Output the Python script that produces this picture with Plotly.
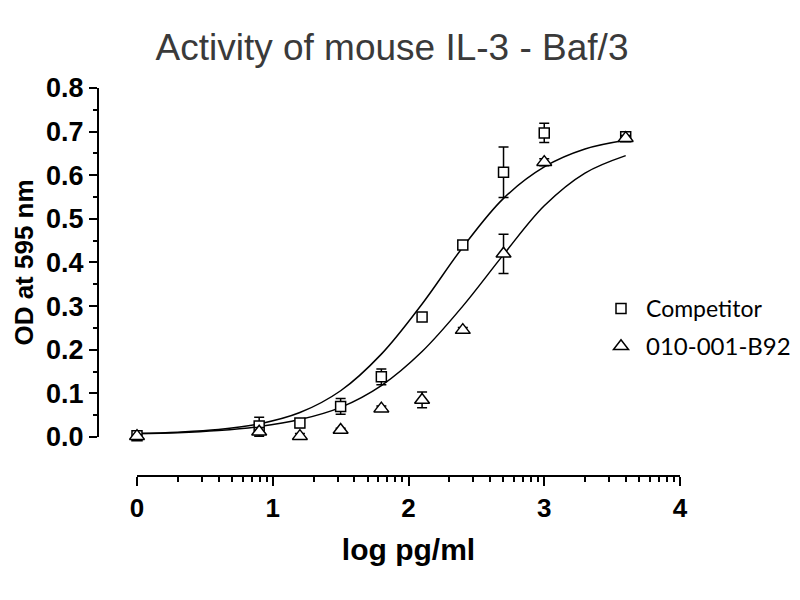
import math
import plotly.graph_objects as go

# log concentration (pg/ml) of the dilution series
log_conc = [0, 0.9, 1.2, 1.5, 1.8, 2.1, 2.4, 2.7, 3.0, 3.6]

# OD 595 readings, mean and error
competitor = [0.003, 0.025, 0.032, 0.070, 0.138, 0.275, 0.440, 0.607, 0.697, 0.688]
competitor_err = [0.004, 0.020, 0.010, 0.018, 0.018, 0.006, 0.006, 0.058, 0.022, 0.008]
b92 = [0.002, 0.012, 0.002, 0.016, 0.065, 0.085, 0.245, 0.420, 0.630, 0.685]
b92_err = [0.003, 0.010, 0.006, 0.004, 0.006, 0.018, 0.006, 0.045, 0.008, 0.006]

# fitted curves
fit_x = [0, 0.3, 0.6, 0.9, 1.2, 1.5, 1.8, 2.1, 2.4, 2.7, 3.0, 3.3, 3.6]
competitor_fit = [0.008, 0.011, 0.017, 0.030, 0.056, 0.106, 0.190, 0.305, 0.435, 0.547, 0.619, 0.660, 0.680]
b92_fit = [0.008, 0.010, 0.015, 0.024, 0.040, 0.068, 0.118, 0.196, 0.300, 0.418, 0.530, 0.605, 0.645]

x_ticks = [0, 1, 2, 3, 4]
y_ticks = [0.0, 0.1, 0.2, 0.3, 0.4, 0.5, 0.6, 0.7, 0.8]

bold = dict(family="Liberation Sans, Arial, sans-serif", weight="bold", color="black")

fig = go.Figure()
for fy in [competitor_fit, b92_fit]:
    fig.add_trace(go.Scatter(x=fit_x, y=fy, mode="lines", line=dict(color="black", width=1.5, shape="spline"),
                             showlegend=False, hoverinfo="skip"))

fig.add_trace(go.Scatter(x=log_conc, y=competitor, mode="markers", name="Competitor",
                         legendgroup="comp",
                         marker=dict(symbol="square", size=10, color="white", line=dict(color="black", width=1.5)),
                         error_y=dict(type="data", array=competitor_err, color="black", thickness=1.5, width=5),
                         cliponaxis=False))
fig.add_trace(go.Scatter(x=log_conc, y=b92, mode="markers", name="<span style='font-size:24px'>010-001-B92</span>",
                         legendgroup="b92",
                         marker=dict(symbol="triangle-up", size=13, color="white", line=dict(color="black", width=1.5)),
                         error_y=dict(type="data", array=b92_err, color="black", thickness=1.5, width=5),
                         cliponaxis=False))

fig.update_layout(
    width=800, height=600,
    margin=dict(l=0, r=0, t=0, b=0, autoexpand=False),
    paper_bgcolor="white", plot_bgcolor="white",
    title=dict(text="Activity of mouse IL-3 - Baf/3", x=0.48, xanchor="center", y=0.935, yanchor="middle",
               font=dict(family="Liberation Sans, Arial, sans-serif", size=37, color="#3a3a3a")),
    legend=dict(x=0.735, y=0.535, xanchor="left", yanchor="top", traceorder="grouped",
                tracegroupgap=5, itemwidth=40,
                font=dict(family="Lato, Open Sans, sans-serif", size=23, color="black"),
                bgcolor="rgba(0,0,0,0)", itemclick=False),
    xaxis=dict(domain=[0.16125, 0.84], range=[0, 4], anchor="free", position=0.22, automargin=False,
               showline=True, linecolor="black", linewidth=2, showgrid=False, zeroline=False,
               tickvals=x_ticks, ticks="outside", ticklen=9, tickwidth=2, tickcolor="black",
               tickfont=dict(size=26, **bold),
               minor=dict(tickvals=[n + math.log10(k) for n in range(4) for k in range(2, 10)],
                         ticks="outside", ticklen=5, tickwidth=1.5, tickcolor="black"),
               title=dict(text="log pg/ml", font=dict(size=30, **bold), standoff=16)),
    yaxis=dict(domain=[0.285, 0.8667], range=[0, 0.8], anchor="free", position=0.1125, automargin=False,
               showline=True, linecolor="black", linewidth=2, showgrid=False, zeroline=False,
               tickvals=y_ticks, tickformat=".1f", ticks="outside", ticklen=8, tickwidth=2, tickcolor="black",
               tickfont=dict(size=27, **bold),
               minor=dict(dtick=0.05, ticks="outside", ticklen=4, tickwidth=1.5, tickcolor="black"),
               title=dict(text="OD at 595 nm", font=dict(size=26, **bold), standoff=4)),
)

fig.write_html("out.html")
